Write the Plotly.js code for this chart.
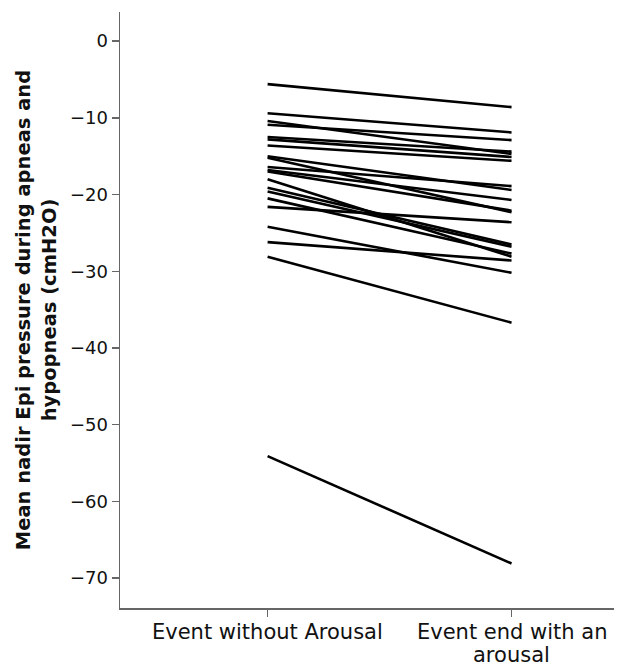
<!DOCTYPE html>
<html>
<head>
<meta charset="utf-8">
<script src="https://cdn.plot.ly/plotly-3.0.1.min.js"></script>
<style>html,body{margin:0;padding:0;background:#fff;}</style>
</head>
<body>
<div id="chart" style="width:629px;height:669px;"></div>
<script>
const categories = ["Event without Arousal", "Event end with an arousal"];
const categoryLines = [["Event without Arousal"], ["Event end with an", "arousal"]];
const withoutArousal = [-5.6, -9.4, -10.4, -10.9, -12.5, -12.8, -13.6, -15.0, -15.2, -16.4, -16.8, -17.0, -18.0, -19.1, -19.6, -20.5, -21.6, -24.2, -26.2, -28.1, -54.1];
const withArousal    = [-8.6, -11.9, -14.7, -12.9, -14.4, -15.1, -15.6, -19.4, -22.3, -18.9, -20.7, -22.1, -28.1, -26.5, -26.8, -27.7, -23.6, -30.2, -28.6, -36.7, -68.1];
const yTicks = [0, -10, -20, -30, -40, -50, -60, -70];

const traces = withoutArousal.map((v, i) => ({
  x: [0, 1],
  y: [v, withArousal[i]],
  type: "scatter",
  mode: "lines",
  line: {color: "#000", width: 2.6},
  hoverinfo: "skip",
  showlegend: false
}));

const annotations = [];
categoryLines.forEach((lines, ci) => {
  lines.forEach((txt, li) => {
    annotations.push({
      x: ci, xref: "x", y: 0, yref: "paper",
      text: txt, showarrow: false,
      xanchor: "center", yanchor: "middle",
      yshift: -24 - li * 23,
      font: {size: 21, color: "#111"}
    });
  });
});

const layout = {
  width: 629, height: 669,
  margin: {l: 120, r: 15, t: 12, b: 61},
  paper_bgcolor: "#fff", plot_bgcolor: "#fff",
  font: {family: "DejaVu Sans, sans-serif", color: "#111"},
  xaxis: {
    range: [-0.605, 1.42],
    tickvals: [0, 1], ticktext: ["", ""],
    showgrid: false, zeroline: false,
    showline: true, linecolor: "#666", linewidth: 1.5,
    ticks: "outside", ticklen: 7, tickcolor: "#666", tickwidth: 1.5
  },
  yaxis: {
    range: [-73.9, 3.8],
    tickvals: yTicks, ticktext: yTicks.map(t => t === 0 ? "0" : "\u2212" + Math.abs(t)),
    showgrid: false, zeroline: false,
    showline: true, linecolor: "#666", linewidth: 1.5,
    ticks: "outside", ticklen: 7, tickcolor: "#666", tickwidth: 1.5,
    tickfont: {size: 18, color: "#111"},
    title: {text: "<b>Mean nadir Epi pressure during apneas and<br>hypopneas (cmH2O)</b>", font: {size: 19.5, color: "#111"}, standoff: 8}
  },
  annotations: annotations
};

Plotly.newPlot("chart", traces, layout, {displayModeBar: false, staticPlot: true});
</script>
</body>
</html>
